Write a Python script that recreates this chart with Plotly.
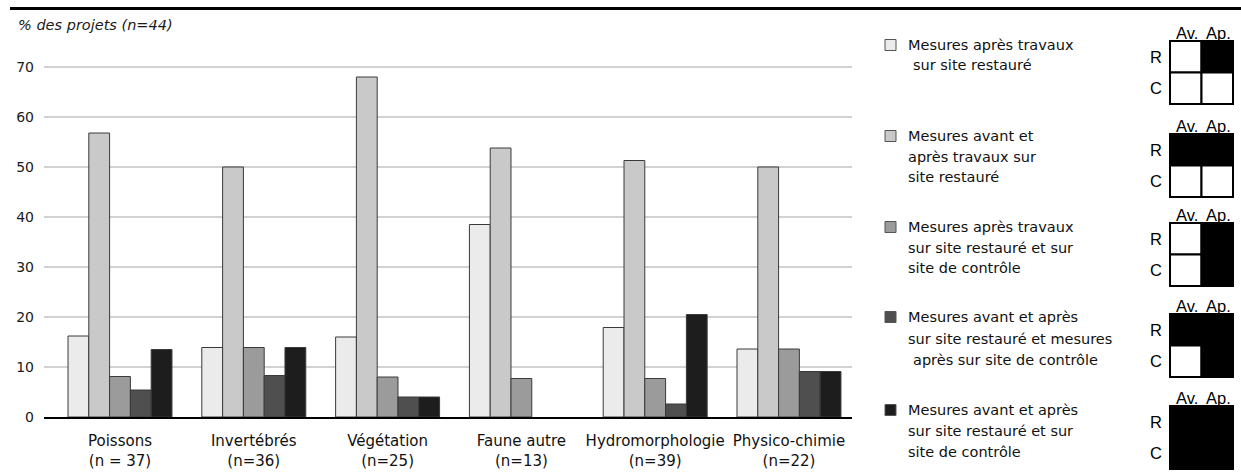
import plotly.graph_objects as go

# ---------------- data ----------------
categories = ["Poissons", "Invertébrés", "Végétation", "Faune autre", "Hydromorphologie", "Physico-chimie"]
cat_n = ["(n = 37)", "(n=36)", "(n=25)", "(n=13)", "(n=39)", "(n=22)"]

apres_restaure = [16.2, 13.9, 16.0, 38.5, 17.9, 13.6]
avant_apres_restaure = [56.8, 50.0, 68.0, 53.8, 51.3, 50.0]
apres_restaure_controle = [8.1, 13.9, 8.0, 7.7, 7.7, 13.6]
avant_apres_restaure_apres_controle = [5.4, 8.3, 4.0, None, 2.6, 9.1]
avant_apres_restaure_controle = [13.5, 13.9, 4.0, None, 20.5, 9.1]

series_values = [apres_restaure, avant_apres_restaure, apres_restaure_controle,
                 avant_apres_restaure_apres_controle, avant_apres_restaure_controle]
series_colors = ["#ebebeb", "#c9c9c9", "#9b9b9b", "#4f4f4f", "#1d1d1d"]

legend_lines = [
    ["Mesures après travaux", "sur site restauré"],
    ["Mesures avant et", "après travaux sur", "site restauré"],
    ["Mesures après travaux", "sur site restauré et sur", "site de contrôle"],
    ["Mesures avant et après", "sur site restauré et mesures", "après sur site de contrôle"],
    ["Mesures avant et après", "sur site restauré et sur", "site de contrôle"],
]
legend_indent = [[0, 1], [0, 0, 0], [0, 0, 0], [0, 0, 1], [0, 0, 0]]
# schematic: [R-Av, R-Ap, C-Av, C-Ap]  1 = measured (black)
schemes = [
    [0, 1, 0, 0],
    [1, 1, 0, 0],
    [0, 1, 0, 1],
    [1, 1, 0, 1],
    [1, 1, 1, 1],
]
yticks = [0, 10, 20, 30, 40, 50, 60, 70]
y_title = "% des projets (n=44)"

# ---------------- layout geometry ----------------
W, H = 1241, 472
L, R, T, B = 44, 389, 42, 55
PW, PH = W - L - R, H - T - B


def px(x):
    return (x - L) / PW


def py(y):
    return (H - B - y) / PH


FONT = "DejaVu Sans"
fig = go.Figure()

names = [" ".join(l) for l in legend_lines]
for vals, col, nm in zip(series_values, series_colors, names):
    fig.add_trace(go.Bar(
        x=categories, y=vals, name=nm,
        marker=dict(color=col, line=dict(color="#3a3a3a", width=1)),
        showlegend=False,
    ))

shapes = []
annotations = []

# top thick rule
shapes.append(dict(type="rect", xref="paper", yref="paper",
                   x0=px(10), x1=px(1241), y0=py(10), y1=py(7),
                   fillcolor="black", line=dict(width=0)))

# axis title
annotations.append(dict(text=y_title, xref="paper", yref="paper",
                        x=px(16), y=py(25), xanchor="left", yanchor="middle",
                        showarrow=False,
                        font=dict(family=FONT, size=14.5, color="#1a1a1a", style="italic")))

# custom legend
entry_y = [45, 136, 227, 317, 410]
line_gap = [20, 20.5, 20.5, 21.5, 21]
box_top = [41, 134, 223, 314, 406]
bx0, bx1 = 1170, 1233
for i, lines in enumerate(legend_lines):
    y0 = entry_y[i]
    shapes.append(dict(type="rect", xref="paper", yref="paper",
                       x0=px(885), x1=px(896), y0=py(y0 + 5.5), y1=py(y0 - 5.5),
                       fillcolor=series_colors[i], line=dict(color="#555", width=1)))
    for j, txt in enumerate(lines):
        annotations.append(dict(text=txt, xref="paper", yref="paper",
                                x=px(906 + 5 * legend_indent[i][j]), y=py(y0 + j * line_gap[i]),
                                xanchor="left", yanchor="middle", showarrow=False,
                                font=dict(family=FONT, size=14.5, color="#111")))
    # schematic box
    tp = box_top[i]
    bt = tp + 63
    mx, my = (bx0 + bx1) / 2, (tp + bt) / 2
    cells = [(bx0, mx, tp, my), (mx, bx1, tp, my), (bx0, mx, my, bt), (mx, bx1, my, bt)]
    for (cx0, cx1, cy0, cy1), s in zip(cells, schemes[i]):
        shapes.append(dict(type="rect", xref="paper", yref="paper",
                           x0=px(cx0), x1=px(cx1), y0=py(cy1), y1=py(cy0),
                           fillcolor="black" if s else "white",
                           line=dict(color="black", width=2)))
    for lab, xx in (("Av.", (bx0 + mx) / 2 + 1), ("Ap.", (mx + bx1) / 2 + 1)):
        annotations.append(dict(text=lab, xref="paper", yref="paper",
                                x=px(xx), y=py(tp - 8), xanchor="center", yanchor="middle",
                                showarrow=False,
                                font=dict(family="Liberation Sans", size=16.5, color="black")))
    for lab, yy in (("R", (tp + my) / 2), ("C", (my + bt) / 2)):
        annotations.append(dict(text=lab, xref="paper", yref="paper",
                                x=px(1156), y=py(yy), xanchor="center", yanchor="middle",
                                showarrow=False,
                                font=dict(family="Liberation Sans", size=16.5, color="black")))

fig.update_layout(
    width=W, height=H,
    margin=dict(l=L, r=R, t=T, b=B, pad=0, autoexpand=False),
    barmode="group", bargap=0.223, bargroupgap=0,
    plot_bgcolor="white", paper_bgcolor="white",
    shapes=shapes, annotations=annotations,
    font=dict(family=FONT, color="#1a1a1a"),
)
fig.update_xaxes(
    type="category", range=[-0.568, 5.471], automargin=False,
    tickmode="array", tickvals=categories,
    ticktext=[f"{c}<br>{n}" for c, n in zip(categories, cat_n)],
    tickfont=dict(family=FONT, size=15, color="#111"),
    showline=True, linecolor="black", linewidth=2,
    ticks="outside", ticklen=9, tickcolor="rgba(0,0,0,0)",
    showgrid=False,
)
fig.update_yaxes(
    range=[0, 75], tickvals=yticks, automargin=False,
    tickfont=dict(family=FONT, size=14, color="#1a1a1a"),
    showgrid=True, gridcolor="#d2d2d2", gridwidth=1.5,
    zeroline=False, showline=False, ticklabelstandoff=9,
)

fig.write_html(
    "out.html",
    config={"displayModeBar": False},
    post_script="document.body.style.margin='0';document.body.style.padding='0';",
)
